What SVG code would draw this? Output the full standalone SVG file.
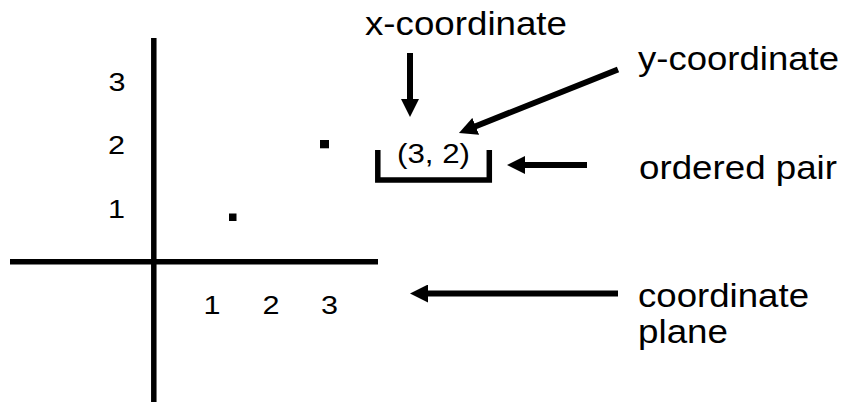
<svg xmlns="http://www.w3.org/2000/svg" width="844" height="402" viewBox="0 0 844 402">
  <style>
    .lbl { font-family: "Liberation Sans", Arial, sans-serif; fill: #000; }
    .big { font-size: 33px; }
    .pair { font-size: 27.5px; }
    .num { font-size: 25.5px; text-anchor: middle; }
    .axis { stroke: #000; stroke-width: 5.5; fill: none; }
    .arrow { stroke: #000; stroke-width: 6; fill: none; marker-end: url(#head); }
  </style>
  <defs>
    <marker id="head" markerUnits="userSpaceOnUse" markerWidth="18" markerHeight="18" refX="6" refY="9" orient="auto">
      <path d="M0,0 L18,9 L0,18 Z" fill="#000"/>
    </marker>
  </defs>
  <rect width="844" height="402" fill="#fff"/>

  <g id="plane">
    <line class="axis" x1="153.8" y1="38" x2="153.8" y2="402"/>
    <line class="axis" x1="10" y1="261.7" x2="378" y2="261.7"/>
    <text class="lbl num" x="117" y="90.5" textLength="17" lengthAdjust="spacingAndGlyphs">3</text>
    <text class="lbl num" x="116.5" y="154" textLength="17" lengthAdjust="spacingAndGlyphs">2</text>
    <text class="lbl num" x="116.5" y="218" textLength="17" lengthAdjust="spacingAndGlyphs">1</text>
    <text class="lbl num" x="212" y="313.5" textLength="17" lengthAdjust="spacingAndGlyphs">1</text>
    <text class="lbl num" x="271" y="313.5" textLength="17" lengthAdjust="spacingAndGlyphs">2</text>
    <text class="lbl num" x="329.5" y="313.5" textLength="17" lengthAdjust="spacingAndGlyphs">3</text>
    <rect x="229" y="213.5" width="7.5" height="7.5" fill="#000"/>
    <rect x="320" y="140" width="9" height="8.3" fill="#000"/>
  </g>

  <g id="pair">
    <text class="lbl pair" x="397" y="163" textLength="73" lengthAdjust="spacingAndGlyphs">(3, 2)</text>
    <path class="axis" d="M377.8,150 V180 H489.3 V150"/>
  </g>

  <g id="label-x">
    <text class="lbl big" x="365" y="35" textLength="202" lengthAdjust="spacingAndGlyphs">x-coordinate</text>
  </g>
  <g id="label-y">
    <text class="lbl big" x="638" y="69.5" textLength="201" lengthAdjust="spacingAndGlyphs">y-coordinate</text>
  </g>
  <g id="label-pair">
    <text class="lbl big" x="639" y="178.5" textLength="198" lengthAdjust="spacingAndGlyphs">ordered pair</text>
  </g>
  <g id="label-plane">
    <text class="lbl big" x="638" y="307" textLength="171" lengthAdjust="spacingAndGlyphs">coordinate</text>
    <text class="lbl big" x="638" y="343" textLength="90" lengthAdjust="spacingAndGlyphs">plane</text>
  </g>

  <g id="connectors">
    <line class="arrow" x1="410" y1="53" x2="410" y2="105"/>
    <line class="arrow" x1="618" y1="69.5" x2="470.1" y2="128.5"/>
    <line class="arrow" x1="587" y1="165" x2="519" y2="165"/>
    <line class="arrow" x1="618" y1="293.5" x2="422" y2="293.5"/>
  </g>
</svg>
